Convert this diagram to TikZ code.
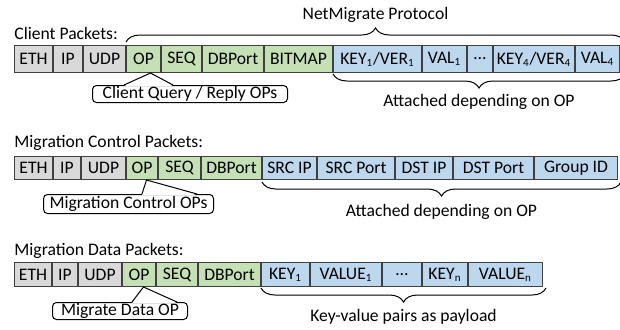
\documentclass[tikz,border=0pt]{standalone}
\usepackage{fontspec}
\setmainfont{Carlito}
\usetikzlibrary{positioning, decorations.pathreplacing}
\definecolor{hdrgray}{HTML}{D9D9D9}
\definecolor{opgreen}{HTML}{C5E0B4}
\definecolor{payblue}{HTML}{BDD7EE}
\newcommand{\idx}[1]{\textsubscript{\fontsize{5.5pt}{6pt}\selectfont #1}}
\tikzstyle{field} = [rectangle, draw=black!75, line width=0.5pt, inner sep=0pt, text centered]
\tikzstyle{hdr} = [field, fill=hdrgray]
\tikzstyle{ctl} = [field, fill=opgreen]
\tikzstyle{pay} = [field, fill=payblue]
\tikzstyle{rowa} = [minimum height=13.5pt]
\tikzstyle{rowb} = [minimum height=11.5pt]
\tikzstyle{rowc} = [minimum height=12pt]
\tikzstyle{title} = [inner sep=0pt, anchor=west]
\tikzstyle{note} = [rectangle, rounded corners=2pt, draw=black, line width=0.5pt, fill=white, inner sep=0pt, anchor=north west]
\tikzstyle{brace} = [decorate, decoration={brace, amplitude=7pt}, line width=0.5pt]
\tikzstyle{pointer} = [line width=0.5pt]

\begin{document}
\begin{tikzpicture}[x=0.5pt, y=-0.5pt, font=\fontsize{8.8pt}{10.5pt}\selectfont]
\useasboundingbox (0,0) rectangle (620,329);

% client packets
\node (cpkt) [title] at (14,33) {Client Packets:};
\node (eth1) [hdr, rowa, minimum width=19pt, anchor=north west] at (14,45) {ETH};
\node (ip1) [hdr, rowa, minimum width=14.5pt, right=0pt of eth1] {IP};
\node (udp1) [hdr, rowa, minimum width=21pt, right=0pt of ip1] {UDP};
\node (op1) [ctl, rowa, minimum width=17pt, right=0pt of udp1] {OP};
\node (seq1) [ctl, rowa, minimum width=20pt, right=0pt of op1] {SEQ};
\node (db1) [ctl, rowa, minimum width=30.5pt, right=0pt of seq1] {DBPort};
\node (bmp1) [ctl, rowa, minimum width=34pt, right=0pt of db1] {BITMAP};
\node (kv1) [pay, rowa, minimum width=44pt, right=0pt of bmp1] {KEY\idx{1}/VER\idx{1}};
\node (val1) [pay, rowa, minimum width=22pt, right=0pt of kv1] {VAL\idx{1}};
\node (dots1) [pay, rowa, minimum width=12.5pt, right=0pt of val1] {…};
\node (kv4) [pay, rowa, minimum width=40.5pt, right=0pt of dots1] {KEY\idx{4}/VER\idx{4}};
\node (val4) [pay, rowa, minimum width=22pt, right=0pt of kv4] {VAL\idx{4}};
\node (q1) [note, minimum width=97.5pt, minimum height=8.5pt] at (92,85) {Client Query / Reply OPs};

% migration control packets
\node (mpkt) [title] at (14,143) {Migration Control Packets:};
\node (eth2) [hdr, rowb, minimum width=19pt, anchor=north west] at (14,156) {ETH};
\node (ip2) [hdr, rowb, minimum width=13.5pt, right=0pt of eth2] {IP};
\node (udp2) [hdr, rowb, minimum width=22pt, right=0pt of ip2] {UDP};
\node (op2) [ctl, rowb, minimum width=15.5pt, right=0pt of udp2] {OP};
\node (seq2) [ctl, rowb, minimum width=21pt, right=0pt of op2] {SEQ};
\node (db2) [ctl, rowb, minimum width=30pt, right=0pt of seq2] {DBPort};
\node (sip) [pay, rowb, minimum width=27pt, right=0pt of db2] {SRC IP};
\node (sport) [pay, rowb, minimum width=38.5pt, right=0pt of sip] {SRC Port};
\node (dip) [pay, rowb, minimum width=28.5pt, right=0pt of sport] {DST IP};
\node (dport) [pay, rowb, minimum width=40pt, right=0pt of dip] {DST Port};
\node (gid) [pay, rowb, minimum width=41.5pt, right=0pt of dport] {Group ID};
\node (q2) [note, minimum width=85pt, minimum height=9.5pt] at (43,194) {Migration Control OPs};

% migration data packets
\node (dpkt) [title] at (14,251) {Migration Data Packets:};
\node (eth3) [hdr, rowc, minimum width=18.5pt, anchor=north west] at (14,262) {ETH};
\node (ip3) [hdr, rowc, minimum width=12.5pt, right=0pt of eth3] {IP};
\node (udp3) [hdr, rowc, minimum width=21.5pt, right=0pt of ip3] {UDP};
\node (op3) [ctl, rowc, minimum width=16.5pt, right=0pt of udp3] {OP};
\node (seq3) [ctl, rowc, minimum width=20.5pt, right=0pt of op3] {SEQ};
\node (db3) [ctl, rowc, minimum width=31pt, right=0pt of seq3] {DBPort};
\node (key1) [pay, rowc, minimum width=24pt, right=0pt of db3] {KEY\idx{1}};
\node (value1) [pay, rowc, minimum width=35.5pt, right=0pt of key1] {VALUE\idx{1}};
\node (dots3) [pay, rowc, minimum width=19.5pt, right=0pt of value1] {…};
\node (keyn) [pay, rowc, minimum width=22.5pt, right=0pt of dots3] {KEY\idx{n}};
\node (valuen) [pay, rowc, minimum width=37pt, right=0pt of keyn] {VALUE\idx{n}};
\node (q3) [note, minimum width=67.5pt, minimum height=8.5pt] at (52,302) {Migrate Data OP};

% callout pointers
\coordinate (q1l) at ([xshift=16pt]q1.north west);
\coordinate (q1r) at ([xshift=40.5pt]q1.north west);
\coordinate (t1) at ([xshift=3.5pt]op1.south);
\coordinate (q2l) at ([xshift=49.5pt]q2.north west);
\coordinate (q2r) at ([xshift=77pt]q2.north west);
\coordinate (t2) at ([xshift=2.25pt]op2.south);
\coordinate (q3l) at ([xshift=40pt]q3.north west);
\coordinate (q3r) at ([xshift=62.5pt]q3.north west);
\coordinate (t3) at ([xshift=2.25pt]op3.south);
\fill [white] ([yshift=-0.6pt]q1l) -- (t1) -- ([yshift=-0.6pt]q1r) -- cycle;
\fill [white] ([yshift=-0.6pt]q2l) -- (t2) -- ([yshift=-0.6pt]q2r) -- cycle;
\fill [white] ([yshift=-0.6pt]q3l) -- (t3) -- ([yshift=-0.6pt]q3r) -- cycle;
\draw [pointer] (q1l) -- (t1) -- (q1r);
\draw [pointer] (q2l) -- (t2) -- (q2r);
\draw [pointer] (q3l) -- (t3) -- (q3r);

% braces
\draw [brace] ([yshift=1.5pt]op1.north west) -- ([xshift=2.5pt,yshift=1.5pt]val4.north east)
  node [midway, above=9.5pt, inner sep=0pt] {NetMigrate Protocol};
\draw [brace] ([xshift=2.5pt,yshift=-0.5pt]val4.south east) -- ([yshift=-0.5pt]kv1.south west)
  node [midway, below=10pt, inner sep=0pt] {Attached depending on OP};
\draw [brace] ([xshift=1.5pt,yshift=-1pt]gid.south east) -- ([yshift=-1pt]sip.south west)
  node [midway, below=11pt, inner sep=0pt] {Attached depending on OP};
\draw [brace] ([xshift=1.5pt,yshift=-0.5pt]valuen.south east) -- ([yshift=-0.5pt]key1.south west)
  node [midway, below=10.5pt, inner sep=0pt] {Key-value pairs as payload};

\end{tikzpicture}
\end{document}
